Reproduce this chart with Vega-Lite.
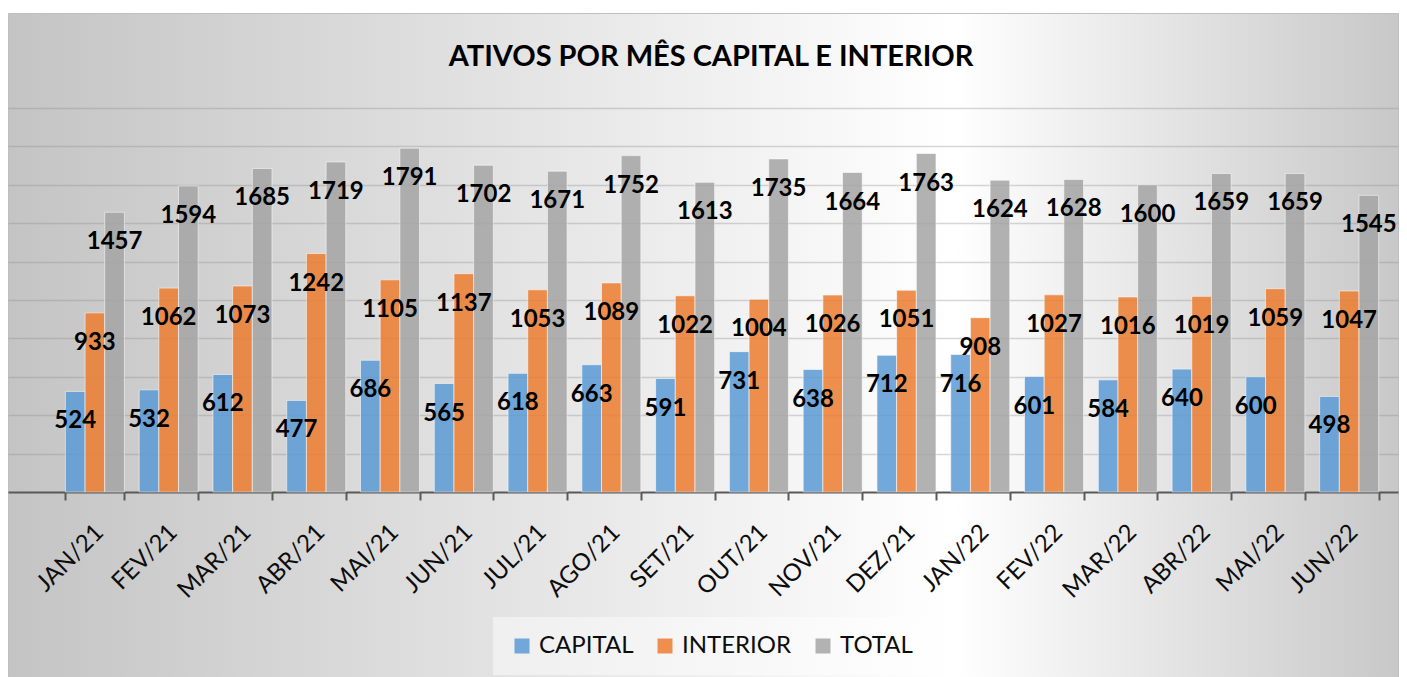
{
  "$schema": "https://vega.github.io/schema/vega-lite/v6.json",
  "width": 1390,
  "height": 664,
  "autosize": "none",
  "padding": {"left": 8, "top": 13, "right": 9, "bottom": 0},
  "background": "white",
  "title": {"text": "ATIVOS POR MÊS CAPITAL E INTERIOR", "dx": 8},
  "data": {"values": [
    {"mes": "JAN/21", "serie": "CAPITAL", "valor": 524}, {"mes": "JAN/21", "serie": "INTERIOR", "valor": 933}, {"mes": "JAN/21", "serie": "TOTAL", "valor": 1457},
    {"mes": "FEV/21", "serie": "CAPITAL", "valor": 532}, {"mes": "FEV/21", "serie": "INTERIOR", "valor": 1062}, {"mes": "FEV/21", "serie": "TOTAL", "valor": 1594},
    {"mes": "MAR/21", "serie": "CAPITAL", "valor": 612}, {"mes": "MAR/21", "serie": "INTERIOR", "valor": 1073}, {"mes": "MAR/21", "serie": "TOTAL", "valor": 1685},
    {"mes": "ABR/21", "serie": "CAPITAL", "valor": 477}, {"mes": "ABR/21", "serie": "INTERIOR", "valor": 1242}, {"mes": "ABR/21", "serie": "TOTAL", "valor": 1719},
    {"mes": "MAI/21", "serie": "CAPITAL", "valor": 686}, {"mes": "MAI/21", "serie": "INTERIOR", "valor": 1105}, {"mes": "MAI/21", "serie": "TOTAL", "valor": 1791},
    {"mes": "JUN/21", "serie": "CAPITAL", "valor": 565}, {"mes": "JUN/21", "serie": "INTERIOR", "valor": 1137}, {"mes": "JUN/21", "serie": "TOTAL", "valor": 1702},
    {"mes": "JUL/21", "serie": "CAPITAL", "valor": 618}, {"mes": "JUL/21", "serie": "INTERIOR", "valor": 1053}, {"mes": "JUL/21", "serie": "TOTAL", "valor": 1671},
    {"mes": "AGO/21", "serie": "CAPITAL", "valor": 663}, {"mes": "AGO/21", "serie": "INTERIOR", "valor": 1089}, {"mes": "AGO/21", "serie": "TOTAL", "valor": 1752},
    {"mes": "SET/21", "serie": "CAPITAL", "valor": 591}, {"mes": "SET/21", "serie": "INTERIOR", "valor": 1022}, {"mes": "SET/21", "serie": "TOTAL", "valor": 1613},
    {"mes": "OUT/21", "serie": "CAPITAL", "valor": 731}, {"mes": "OUT/21", "serie": "INTERIOR", "valor": 1004}, {"mes": "OUT/21", "serie": "TOTAL", "valor": 1735},
    {"mes": "NOV/21", "serie": "CAPITAL", "valor": 638}, {"mes": "NOV/21", "serie": "INTERIOR", "valor": 1026}, {"mes": "NOV/21", "serie": "TOTAL", "valor": 1664},
    {"mes": "DEZ/21", "serie": "CAPITAL", "valor": 712}, {"mes": "DEZ/21", "serie": "INTERIOR", "valor": 1051}, {"mes": "DEZ/21", "serie": "TOTAL", "valor": 1763},
    {"mes": "JAN/22", "serie": "CAPITAL", "valor": 716}, {"mes": "JAN/22", "serie": "INTERIOR", "valor": 908}, {"mes": "JAN/22", "serie": "TOTAL", "valor": 1624},
    {"mes": "FEV/22", "serie": "CAPITAL", "valor": 601}, {"mes": "FEV/22", "serie": "INTERIOR", "valor": 1027}, {"mes": "FEV/22", "serie": "TOTAL", "valor": 1628},
    {"mes": "MAR/22", "serie": "CAPITAL", "valor": 584}, {"mes": "MAR/22", "serie": "INTERIOR", "valor": 1016}, {"mes": "MAR/22", "serie": "TOTAL", "valor": 1600},
    {"mes": "ABR/22", "serie": "CAPITAL", "valor": 640}, {"mes": "ABR/22", "serie": "INTERIOR", "valor": 1019}, {"mes": "ABR/22", "serie": "TOTAL", "valor": 1659},
    {"mes": "MAI/22", "serie": "CAPITAL", "valor": 600}, {"mes": "MAI/22", "serie": "INTERIOR", "valor": 1059}, {"mes": "MAI/22", "serie": "TOTAL", "valor": 1659},
    {"mes": "JUN/22", "serie": "CAPITAL", "valor": 498}, {"mes": "JUN/22", "serie": "INTERIOR", "valor": 1047}, {"mes": "JUN/22", "serie": "TOTAL", "valor": 1545}
  ]},
  "encoding": {
    "x": {
      "field": "mes", "type": "nominal", "sort": null, "title": null,
      "scale": {"paddingInner": 0.2, "paddingOuter": 0.52, "align": 0.748},
      "axis": {
        "offset": -185, "labelAngle": -45, "labelFont": "Lato", "labelFontSize": 24,
        "labelColor": "#0d0d0d", "labelPadding": 20, "labelOffset": -4,
        "domainColor": "#595959", "domainWidth": 2, "tickColor": "#595959", "tickWidth": 2,
        "tickSize": 8, "tickBand": "extent", "grid": false
      }
    },
    "xOffset": {"field": "serie", "type": "nominal", "sort": ["CAPITAL", "INTERIOR", "TOTAL"], "scale": {"paddingInner": 0, "paddingOuter": 0}},
    "y": {
      "field": "valor", "type": "quantitative", "title": null,
      "scale": {"domain": [-963.54, 2494.79], "nice": false, "zero": false},
      "axis": {
        "values": [200, 400, 600, 800, 1000, 1200, 1400, 1600, 1800, 2000],
        "labels": false, "ticks": false, "domain": false, "grid": true,
        "gridColor": "#8c8c8c", "gridOpacity": 0.35, "gridWidth": 1.5
      }
    }
  },
  "layer": [
    {
      "mark": {"type": "bar", "opacity": 0.85, "stroke": "#ffffff", "strokeWidth": 1, "strokeOpacity": 0.6},
      "encoding": {
        "color": {
          "field": "serie", "type": "nominal", "title": null,
          "scale": {"domain": ["CAPITAL", "INTERIOR", "TOTAL"], "range": ["#5B9BD5", "#ED7D31", "#A5A5A5"]},
          "legend": {
            "orient": "none", "legendX": 485, "legendY": 604, "direction": "horizontal",
            "symbolType": "square", "symbolSize": 225, "symbolStrokeWidth": 0,
            "labelFont": "Lato", "labelFontSize": 24, "labelColor": "#0d0d0d",
            "labelOffset": 5, "columnPadding": 19, "padding": 17,
            "fillColor": "rgba(255,255,255,0.45)"
          }
        }
      }
    },
    {
      "mark": {"type": "text", "baseline": "middle", "align": "center", "dy": 30, "font": "Lato", "fontSize": 24, "fontWeight": "bold", "color": "#000000"},
      "encoding": {"text": {"field": "valor", "type": "quantitative"}}
    }
  ],
  "config": {
    "view": {
      "fill": {"gradient": "linear", "x1": 0, "y1": 0, "x2": 1, "y2": 0, "stops": [
        {"offset": 0, "color": "#c4c4c4"}, {"offset": 0.68, "color": "#ffffff"}, {"offset": 1, "color": "#c8c8c8"}
      ]},
      "stroke": "#bfbfbf", "strokeWidth": 1
    },
    "title": {"font": "Lato", "fontSize": 29, "fontWeight": "bold", "color": "#000000", "anchor": "middle", "frame": "group", "baseline": "alphabetic", "offset": -59}
  }
}
